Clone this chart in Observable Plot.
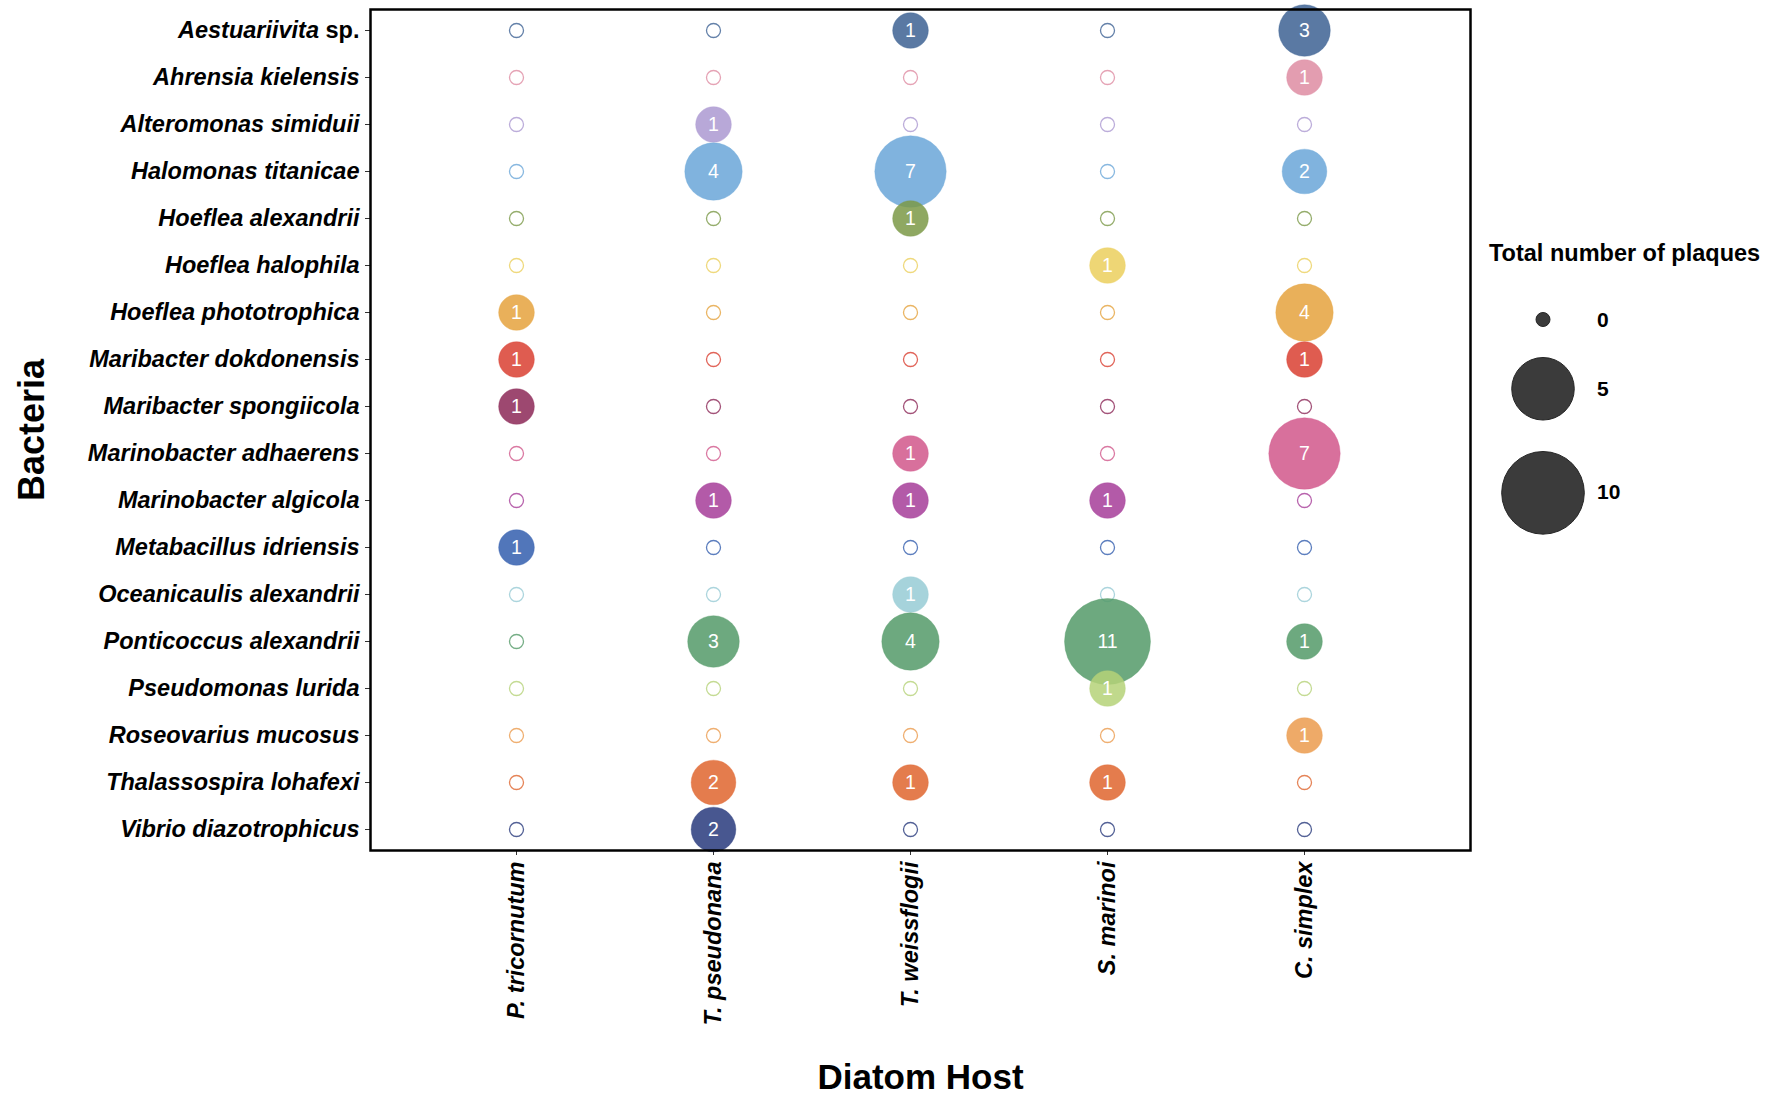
<!DOCTYPE html>
<html>
<head>
<meta charset="utf-8">
<script src="https://cdn.jsdelivr.net/npm/d3@7"></script>
<script src="https://cdn.jsdelivr.net/npm/@observablehq/plot@0.6"></script>
<style>
  html, body { margin: 0; padding: 0; background: white; }
  #wrap { position: relative; width: 1781px; height: 1095px; font-family: "Liberation Sans", Arial, sans-serif; }
  #chart { position: absolute; left: 0; top: 0; }
  #ltitle { position: absolute; left: 1489px; top: 242px; font-size: 23.5px; font-weight: bold; line-height: 1; white-space: nowrap; color: #000; }
  #keys { position: absolute; left: 1489px; top: 297px; }
  .key { display: flex; align-items: center; }
  .key span { font-size: 21px; font-weight: bold; color: #000; }
</style>
</head>
<body>
<div id="wrap">
  <div id="chart"></div>
  <div id="ltitle">Total number of plaques</div>
  <div id="keys"></div>
</div>
<script>
// Categories
const hosts = ["P. tricornutum", "T. pseudonana", "T. weissflogii", "S. marinoi", "C. simplex"];
const bacteria = [
  "Aestuariivita sp.", "Ahrensia kielensis", "Alteromonas simiduii", "Halomonas titanicae",
  "Hoeflea alexandrii", "Hoeflea halophila", "Hoeflea phototrophica", "Maribacter dokdonensis",
  "Maribacter spongiicola", "Marinobacter adhaerens", "Marinobacter algicola", "Metabacillus idriensis",
  "Oceanicaulis alexandrii", "Ponticoccus alexandrii", "Pseudomonas lurida", "Roseovarius mucosus",
  "Thalassospira lohafexi", "Vibrio diazotrophicus"
];
const bacteriaColors = [
  "#3d6193", "#de8ca2", "#ab99d1", "#6aa6d8",
  "#7b9947", "#ebcf5d", "#e5a23d", "#d93f31",
  "#8c2857", "#d1578b", "#a63d99", "#335eae",
  "#97cbd5", "#549a68", "#b5d278", "#eb9b4d",
  "#df652e", "#28397c"
];
// Total number of plaques per host (in bacteria order)
const plaquesPtricornutum = [0,0,0,0,0,0,1,1,1,0,0,1,0,0,0,0,0,0];
const plaquesTpseudonana  = [0,0,1,4,0,0,0,0,0,0,1,0,0,3,0,0,2,2];
const plaquesTweissflogii = [1,0,0,7,1,0,0,0,0,1,1,0,1,4,0,0,1,0];
const plaquesSmarinoi     = [0,0,0,0,0,1,0,0,0,0,1,0,0,11,1,0,1,0];
const plaquesCsimplex     = [3,1,0,2,0,0,4,1,0,7,0,0,0,1,0,1,0,0];
const legendValues = [0, 5, 10];

const seriesByHost = [plaquesPtricornutum, plaquesTpseudonana, plaquesTweissflogii, plaquesSmarinoi, plaquesCsimplex];
const table = [];
bacteria.forEach((b, i) => {
  hosts.forEach((h, j) => {
    table.push({bacterium: b, host: h, value: seriesByHost[j][i]});
  });
});
const zeros = table.filter(d => d.value === 0);
const positives = table.filter(d => d.value > 0);

const rOptions = {type: "sqrt", domain: [0, 11], range: [7, 43]};
const font = "Liberation Sans, Arial, Helvetica, sans-serif";

const chart = Plot.plot({
  width: 1781,
  height: 1095,
  marginLeft: 370,
  marginRight: 311,
  marginTop: 9,
  marginBottom: 245,
  style: {fontFamily: font, background: "white", color: "black", overflow: "visible"},
  x: {type: "point", domain: hosts, padding: 0.79, align: 0.467, label: null},
  y: {type: "point", domain: bacteria, padding: 0.35, label: null},
  r: rOptions,
  color: {type: "ordinal", domain: bacteria, range: bacteriaColors},
  marks: [
    Plot.axisY({tickSize: 5, tickPadding: 6, fontSize: 23.5, fontWeight: "bold", fontStyle: "italic", stroke: "#333", label: null}),
    Plot.axisX({tickSize: 5, tickPadding: 6, tickRotate: -90, fontSize: 23.5, fontWeight: "bold", fontStyle: "italic", stroke: "#333", label: null}),
    Plot.dot(zeros, {x: "host", y: "bacterium", r: "value", stroke: "bacterium", strokeWidth: 1.3, strokeOpacity: 0.8, fill: "none", sort: null}),
    Plot.dot(positives, {x: "host", y: "bacterium", r: "value", fill: "bacterium", fillOpacity: 0.85, stroke: "bacterium", strokeOpacity: 0.35, strokeWidth: 1, sort: null}),
    Plot.text(positives, {x: "host", y: "bacterium", text: d => String(d.value), fill: "white", fontSize: 19.5}),
    Plot.frame({stroke: "black", strokeWidth: 2.5}),
    Plot.text(["Bacteria"], {text: d => d, frameAnchor: "left", textAnchor: "middle", rotate: -90, lineAnchor: "top", dx: -352, fontSize: 36, fontWeight: "bold", fill: "black"}),
    Plot.text(["Diatom Host"], {text: d => d, frameAnchor: "bottom", textAnchor: "middle", lineAnchor: "bottom", dy: 238, fontSize: 35, fontWeight: "bold", fill: "black"})
  ]
});
document.getElementById("chart").appendChild(chart);

// "sp." is set in upright type, genus in italic
const ns = "http://www.w3.org/2000/svg";
chart.querySelectorAll("text").forEach(t => {
  const s = t.textContent;
  if (s.endsWith(" sp.")) {
    t.textContent = "";
    const a = document.createElementNS(ns, "tspan");
    a.setAttribute("font-style", "italic");
    a.textContent = s.slice(0, -4);
    const b = document.createElementNS(ns, "tspan");
    b.setAttribute("font-style", "normal");
    b.textContent = " sp.";
    t.append(a, b);
  }
});

// Size legend built from the same r scale
const rScale = Plot.scale({r: rOptions});
const keys = d3.select("#keys");
legendValues.forEach(v => {
  const r = rScale.apply(v);
  const h = 2 * r + 31;
  const row = keys.append("div").attr("class", "key").style("height", h + "px");
  const svg = row.append("svg").attr("width", 108).attr("height", h);
  svg.append("circle").attr("cx", 54).attr("cy", h / 2).attr("r", r)
    .attr("fill", "#3b3b3b").attr("stroke", "#262626").attr("stroke-width", 1);
  row.append("span").text(String(v));
});
</script>
</body>
</html>
